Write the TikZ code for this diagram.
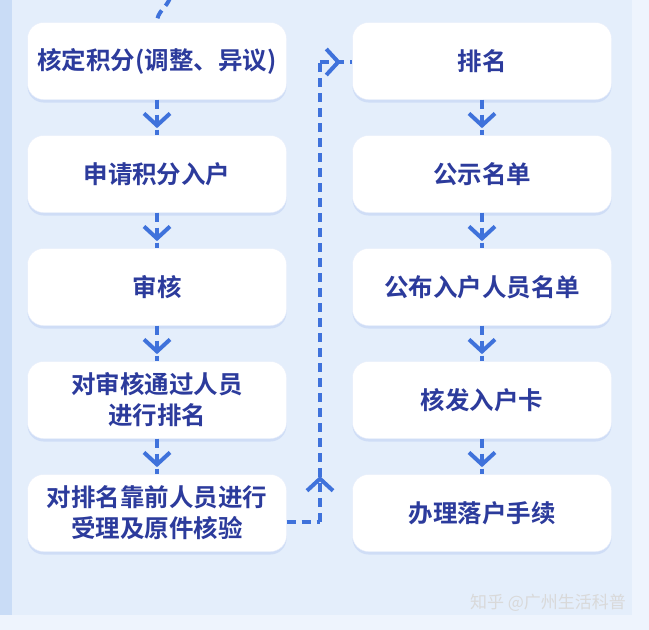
\documentclass[tikz,border=0pt]{standalone}
\usepackage{fontspec}
\newfontfamily\cjk[BoldFont={Noto Sans CJK SC Bold}]{Noto Sans CJK SC}
\usetikzlibrary{arrows.meta,decorations.markings,shadows}
\definecolor{bgA}{HTML}{E4EEFB}
\definecolor{bgB}{HTML}{EEF4FD}
\definecolor{strip}{HTML}{C9DCF6}
\definecolor{ln}{HTML}{3F72DB}
\definecolor{txt}{HTML}{2C3B9C}
\begin{document}
\begin{tikzpicture}[x=1pt,y=-1pt,
  box/.style={draw=white!80!ln!60,fill=white,rounded corners=16pt,minimum width=259pt,minimum height=77pt,
    font=\cjk\bfseries\fontsize{24.5}{31}\selectfont,text=txt,align=center,inner sep=2pt,
    drop shadow={shadow xshift=0pt,shadow yshift=-3pt,fill=ln!35,opacity=0.5}},
  dl/.style={draw=ln,line width=4pt,dash pattern=on 9pt off 6pt},
  arr/.style={dl,postaction={decorate},decoration={markings,mark=at position #1 with {\arrow[solid,line width=4pt]{Straight Barb[length=12pt,width=26pt]}}}}]
\useasboundingbox (0,0) rectangle (649,630);
\fill[bgB] (0,0) rectangle (649,630);
\fill[strip] (0,0) rectangle (12,615);
\fill[bgA] (12,0) rectangle (632,615);
\node[box] (a1) at (157,61) {核定积分(调整、异议)};
\node[box] (a2) at (157,174) {申请积分入户};
\node[box] (a3) at (157,287) {审核};
\node[box] (a4) at (157,400) {对审核通过人员\\进行排名};
\node[box] (a5) at (157,513) {对排名靠前人员进行\\受理及原件核验};
\node[box] (b1) at (482,61) {排名};
\node[box] (b2) at (482,174) {公示名单};
\node[box] (b3) at (482,287) {公布入户人员名单};
\node[box] (b4) at (482,400) {核发入户卡};
\node[box] (b5) at (482,513) {办理落户手续};
\foreach \p/\q in {a1/a2,a2/a3,a3/a4,a4/a5,b1/b2,b2/b3,b3/b4,b4/b5}
  \draw[arr=0.8] (\p.south) -- (\q.north);
\coordinate (c1) at (320,522);
\coordinate (c2) at (320,62);
\coordinate (t0) at (170,-2);
\draw[dl] (a5.east |- c1) -- (c1);
\draw[arr=0.1] (c1) -- (c2);
\draw[arr=0.65] (c2) -- (b1.west |- c2);
\draw[dl] (t0) to[out=250,in=90] (a1.north);
\node[text=white!70!gray,font=\cjk\fontsize{17}{20}\selectfont] (wm) at (548,603) {知乎 @广州生活科普};
\end{tikzpicture}
\end{document}
